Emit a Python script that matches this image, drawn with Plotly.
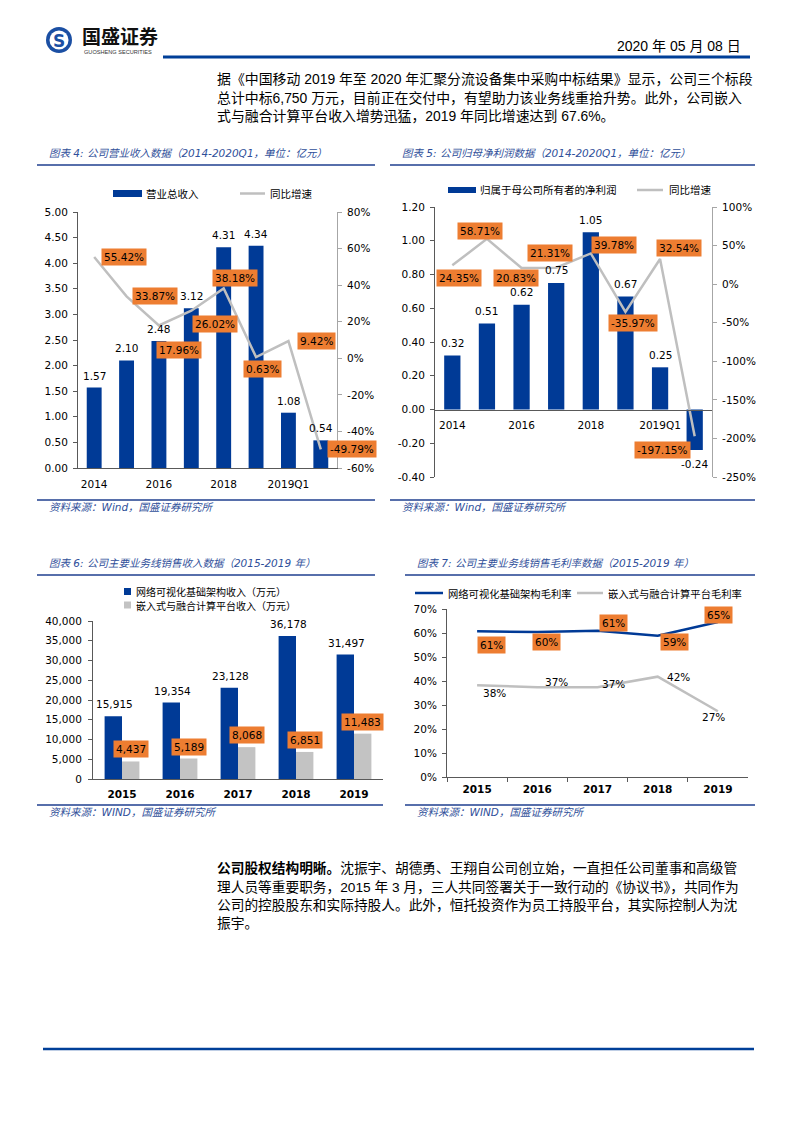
import plotly.graph_objects as go

W, H = 793, 1122


def px(x):
    return x / W


def py(y):
    return 1 - y / H


# ---------------- data ----------------
rev_periods = ["2014", "2015", "2016", "2017", "2018", "2019", "2019Q1", "2020Q1"]
rev_values = [1.57, 2.10, 2.48, 3.12, 4.31, 4.34, 1.08, 0.54]
rev_growth = [55.42, 33.87, 17.96, 26.02, 38.18, 0.63, 9.42, -49.79]
rev_xticks = ["2014", "2016", "2018", "2019Q1"]
rev_right_tickvals = [-60, -40, -20, 0, 20, 40, 60, 80]
rev_right_ticktext = ["-60%", "-40%", "-20%", "0%", "20%", "40%", "60%", "80%"]
rev_names = ["营业总收入", "同比增速"]

np_periods = ["2014", "2015", "2016", "2017", "2018", "2019", "2019Q1", "2020Q1"]
np_values = [0.32, 0.51, 0.62, 0.75, 1.05, 0.67, 0.25, -0.24]
np_growth = [24.35, 58.71, 20.83, 21.31, 39.78, -35.97, 32.54, -197.15]
np_xticks = ["2014", "2016", "2018", "2019Q1"]
np_left_tickvals = [-0.4, -0.2, 0, 0.2, 0.4, 0.6, 0.8, 1.0, 1.2]
np_left_ticktext = ["-0.40", "-0.20", "0.00", "0.20", "0.40", "0.60", "0.80", "1.00", "1.20"]
np_right_tickvals = [-250, -200, -150, -100, -50, 0, 50, 100]
np_right_ticktext = ["-250%", "-200%", "-150%", "-100%", "-50%", "0%", "50%", "100%"]
np_names = ["归属于母公司所有者的净利润", "同比增速"]

seg_years = ["2015", "2016", "2017", "2018", "2019"]
seg_network = [15915, 19354, 23128, 36178, 31497]
seg_embedded = [4437, 5189, 8068, 6851, 11483]
seg_names = ["网络可视化基础架构收入（万元）", "嵌入式与融合计算平台收入（万元）"]

gm_years = ["2015", "2016", "2017", "2018", "2019"]
gm_network = [60.7, 60.4, 60.9, 58.9, 64.6]
gm_embedded = [38.2, 37.4, 37.4, 41.8, 27.4]
gm_names = ["网络可视化基础架构毛利率", "嵌入式与融合计算平台毛利率"]

# label offsets (pixels: right, down)
rev_lbl_off = [(30, 0), (28, 0), (20, 25), (24, 13), (11, -10), (6, 12), (28, 0), (31, 0)]
np_lbl_off = [(7, 13), (-7, -8), (-6, 10), (-6, -15), (23, -8), (8, 11), (19, -11), (-32, 14)]
gmn_lbl_off = [(14, 14), (9, 10), (16, -8), (17, 6), (1, -7)]
gme_lbl_off = [(17, 8), (19, -5), (16, -3), (21, 0), (-4, 6)]

# ---------------- styles ----------------
BLUE = "#003A96"
GRAYL = "#BFBFBF"
GRAYBAR = "#C3C3C3"
ORANGE = "#ED7D31"
TITLEC = "#2F4F9A"
RULE = "#1F3F8F"
NUM = "DejaVu Sans, Noto Sans CJK SC"
CJK = "Noto Sans CJK SC"
BODY = "Liberation Sans, Noto Sans CJK SC"
AXC = "#595959"

fig = go.Figure()

# ---- chart 4 ----
fig.add_trace(go.Bar(x=rev_periods, y=rev_values, name=rev_names[0], marker_color=BLUE,
                     width=0.46, offset=-0.23, xaxis="x", yaxis="y"))
fig.add_trace(go.Scatter(x=rev_periods, y=rev_growth, name=rev_names[1], mode="lines",
                         line=dict(color=GRAYL, width=2.5), xaxis="x", yaxis="y2"))
# ---- chart 5 ----
fig.add_trace(go.Bar(x=np_periods, y=np_values, name=np_names[0], marker_color=BLUE,
                     width=0.47, offset=-0.235, xaxis="x2", yaxis="y3"))
fig.add_trace(go.Scatter(x=np_periods, y=np_growth, name=np_names[1], mode="lines",
                         line=dict(color=GRAYL, width=2.5), xaxis="x2", yaxis="y4"))
# ---- chart 6 ----
fig.add_trace(go.Bar(x=seg_years, y=seg_network, name=seg_names[0], marker_color=BLUE,
                     width=0.3, offset=-0.3, xaxis="x3", yaxis="y5"))
fig.add_trace(go.Bar(x=seg_years, y=seg_embedded, name=seg_names[1], marker_color=GRAYBAR,
                     width=0.3, offset=0.0, xaxis="x3", yaxis="y5"))
# ---- chart 7 ----
fig.add_trace(go.Scatter(x=gm_years, y=gm_network, name=gm_names[0], mode="lines",
                         line=dict(color=BLUE, width=2.5), xaxis="x4", yaxis="y6"))
fig.add_trace(go.Scatter(x=gm_years, y=gm_embedded, name=gm_names[1], mode="lines",
                         line=dict(color=GRAYL, width=2.5), xaxis="x4", yaxis="y6"))

tickfont = dict(family=NUM, size=10.5, color="#000000")
boldtick = dict(family=NUM, size=10.5, color="#000000", weight="bold")
common = dict(showgrid=False, zeroline=False)

fig.update_layout(
    width=W, height=H, margin=dict(l=0, r=0, t=0, b=0),
    paper_bgcolor="white", plot_bgcolor="rgba(0,0,0,0)",
    showlegend=False, hovermode=False, template="none",
    barmode="group",
    # chart 4
    xaxis=dict(domain=[px(78), px(337)], anchor="y", type="category", range=[-0.5, 7.5],
               tickvals=rev_xticks, showline=True, linecolor=AXC, ticks="",
               ticklabelstandoff=6, tickfont=tickfont, **common),
    yaxis=dict(domain=[py(468), py(212)], anchor="x", range=[0, 5], dtick=0.5,
               tickformat=".2f", showline=True, linecolor=AXC, ticks="outside",
               ticklen=4, tickcolor=AXC, ticklabelstandoff=3, tickfont=tickfont, **common),
    yaxis2=dict(overlaying="y", side="right", anchor="x", range=[-60, 80],
                tickvals=rev_right_tickvals, ticktext=rev_right_ticktext,
                showline=True, linecolor="#A6A6A6", ticks="outside", ticklen=4,
                tickcolor="#A6A6A6", ticklabelstandoff=3, tickfont=tickfont, **common),
    # chart 5
    xaxis2=dict(domain=[px(435), px(712)], anchor="free", position=py(409.5),
                type="category", range=[-0.5, 7.5], tickvals=np_xticks,
                showline=True, linecolor=AXC, ticks="", ticklabelstandoff=6,
                tickfont=tickfont, **common),
    yaxis3=dict(domain=[py(477), py(207)], anchor="x2", range=[-0.4, 1.2],
                tickvals=np_left_tickvals, ticktext=np_left_ticktext,
                showline=True, linecolor=AXC, ticks="outside", ticklen=4,
                tickcolor=AXC, ticklabelstandoff=3, tickfont=tickfont, **common),
    yaxis4=dict(overlaying="y3", side="right", anchor="x2", range=[-250, 100],
                tickvals=np_right_tickvals, ticktext=np_right_ticktext,
                showline=True, linecolor="#A6A6A6", ticks="outside", ticklen=4,
                tickcolor="#A6A6A6", ticklabelstandoff=3, tickfont=tickfont, **common),
    # chart 6
    xaxis3=dict(domain=[px(93), px(383)], anchor="y5", type="category", range=[-0.5, 4.5],
                showline=True, linecolor=AXC, ticks="", ticklabelstandoff=5,
                tickfont=boldtick, **common),
    yaxis5=dict(domain=[py(779), py(621)], anchor="x3", range=[0, 40000], dtick=5000,
                tickformat=",", showline=True, linecolor=AXC, ticks="outside", ticklen=4,
                tickcolor=AXC, ticklabelstandoff=4, tickfont=tickfont, **common),
    # chart 7
    xaxis4=dict(domain=[px(447), px(748)], anchor="y6", type="category", range=[-0.5, 4.5],
                showline=True, linecolor=AXC, ticks="outside", tickson="boundaries",
                ticklen=4, tickcolor=AXC, ticklabelstandoff=2, tickfont=boldtick, **common),
    yaxis6=dict(domain=[py(777), py(609)], anchor="x4", range=[0, 70], dtick=10,
                ticksuffix="%", showline=True, linecolor=AXC, ticks="outside", ticklen=4,
                tickcolor=AXC, ticklabelstandoff=3, tickfont=tickfont, **common),
)

ann = []
shapes = []


def text(x, y, s, size=10, color="#000000", family=NUM, xanchor="center",
         yanchor="middle", style="normal", weight="normal"):
    ann.append(dict(x=px(x), y=py(y), xref="paper", yref="paper", text=s,
                    showarrow=False, xanchor=xanchor, yanchor=yanchor,
                    font=dict(size=size, color=color, family=family, style=style,
                              weight=weight)))


def hline(x0, x1, y, color, width):
    shapes.append(dict(type="line", xref="paper", yref="paper", x0=px(x0), x1=px(x1),
                       y0=py(y), y1=py(y), line=dict(color=color, width=width)))


def rect(x0, x1, y0, y1, color):
    shapes.append(dict(type="rect", xref="paper", yref="paper", x0=px(x0), x1=px(x1),
                       y0=py(y1), y1=py(y0), fillcolor=color, line=dict(width=0)))


def circle(cx, cy, r, color):
    shapes.append(dict(type="circle", xref="paper", yref="paper", x0=px(cx - r),
                       x1=px(cx + r), y0=py(cy + r), y1=py(cy - r), fillcolor=color,
                       line=dict(width=0)))


# ---- header ----
circle(59, 40, 13, "#1B4FA3")
circle(59, 40, 9.5, "white")
text(59, 40.5, "<b>S</b>", size=17, color="#1B4FA3", family="DejaVu Sans")
text(80, 35, "<b>国盛证券</b>", size=19, color="#111111", family=CJK, xanchor="left")
text(82, 52, "GUOSHENG SECURITIES", size=5.6, color="#333333",
     family="Liberation Sans", xanchor="left")
hline(163, 750, 57, "#003F98", 3)
text(743, 46, "2020 年 05 月 08 日", size=14, family=BODY, xanchor="right")

# ---- paragraph 1 ----
para1 = [
    "据《中国移动 2019 年至 2020 年汇聚分流设备集中采购中标结果》显示，公司三个标段",
    "总计中标6,750 万元，目前正在交付中，有望助力该业务线重拾升势。此外，公司嵌入",
    "式与融合计算平台收入增势迅猛，2019 年同比增速达到 67.6%。",
]
for i, s in enumerate(para1):
    text(215, 79 + i * 18.7, s, size=13.9, family=BODY, xanchor="left")

para2 = [
    "<b>公司股权结构明晰。</b>沈振宇、胡德勇、王翔自公司创立始，一直担任公司董事和高级管",
    "理人员等重要职务，2015 年 3 月，三人共同签署关于一致行动的《协议书》，共同作为",
    "公司的控股股东和实际持股人。此外，恒托投资作为员工持股平台，其实际控制人为沈",
    "振宇。",
]
for i, s in enumerate(para2):
    text(215, 868 + i * 18.5, s, size=13.7, family=BODY, xanchor="left")

hline(43, 754, 1049, "#003F98", 2.5)

# ---- chart titles / sources ----
titles = [
    (47, 153, "图表 4: 公司营业收入数据（2014-2020Q1，单位：亿元）"),
    (400, 153, "图表 5: 公司归母净利润数据（2014-2020Q1，单位：亿元）"),
    (47, 563, "图表 6: 公司主要业务线销售收入数据（2015-2019 年）"),
    (415, 563, "图表 7: 公司主要业务线销售毛利率数据（2015-2019 年）"),
]
for x, y, s in titles:
    text(x, y, s, size=10.5, color=TITLEC, family=NUM, xanchor="left", style="italic")
hline(37, 375, 165, RULE, 1.5)
hline(390, 755, 165, RULE, 1.5)
hline(37, 375, 575, RULE, 1.5)
hline(405, 755, 575, RULE, 1.5)

hline(37, 375, 500, RULE, 1.5)
hline(390, 755, 500, RULE, 1.5)
hline(37, 383, 805, RULE, 1.5)
hline(405, 755, 805, RULE, 1.5)
sources = [
    (47, 507, "资料来源：Wind，国盛证券研究所"),
    (400, 507, "资料来源：Wind，国盛证券研究所"),
    (47, 812, "资料来源：WIND，国盛证券研究所"),
    (415, 812, "资料来源：WIND，国盛证券研究所"),
]
for x, y, s in sources:
    text(x, y, s, size=10.5, color=TITLEC, family=NUM, xanchor="left", style="italic")

# ---- legends ----
rect(113, 142, 190, 197, BLUE)
text(144, 193.5, rev_names[0], size=10.5, family=CJK, xanchor="left")
hline(240, 265, 193.5, GRAYL, 2.5)
text(268, 193.5, rev_names[1], size=10.5, family=CJK, xanchor="left")

rect(448, 476, 187, 193, BLUE)
text(478, 190, np_names[0], size=10.5, family=CJK, xanchor="left")
hline(637, 663, 190, GRAYL, 2.5)
text(667, 190, np_names[1], size=10.5, family=CJK, xanchor="left")

rect(124, 131, 588, 595, BLUE)
text(134, 591.5, seg_names[0], size=10, family=CJK, xanchor="left")
rect(124, 131, 601.5, 608.5, GRAYBAR)
text(134, 605, seg_names[1], size=10, family=CJK, xanchor="left")

hline(415, 443, 593, BLUE, 2.5)
text(446, 593, gm_names[0], size=10.3, family=CJK, xanchor="left")
hline(577, 603, 593, GRAYL, 2.5)
text(606, 593, gm_names[1], size=10.3, family=CJK, xanchor="left")


# ---- data labels (x given as category index) ----
def dlabel(i, y, s, xref, yref, dx=0, dy=0, box=False, size=10.5):
    d = dict(x=i, y=y, xref=xref, yref=yref, text=s, showarrow=False,
             xshift=dx, yshift=-dy, xanchor="center", yanchor="middle",
             font=dict(family=NUM, size=size, color="#000000"))
    if box:
        d.update(bgcolor=ORANGE, borderpad=2)
    ann.append(d)


for i, v in enumerate(rev_values):
    dlabel(i, v, f"{v:.2f}", "x", "y", dy=-12)
for i, (v, (dx, dy)) in enumerate(zip(rev_growth, rev_lbl_off)):
    dlabel(i, v, f"{v:.2f}%", "x", "y2", dx, dy, box=True)

for i, v in enumerate(np_values):
    dlabel(i, v, f"{v:.2f}", "x2", "y3", dy=(-12.5 if v >= 0 else 14))
for i, (v, (dx, dy)) in enumerate(zip(np_growth, np_lbl_off)):
    dlabel(i, v, f"{v:.2f}%", "x2", "y4", dx, dy, box=True)

for i, v in enumerate(seg_network):
    dlabel(i, v, f"{v:,}", "x3", "y5", dx=-8, dy=-12)
for i, v in enumerate(seg_embedded):
    dlabel(i, v, f"{v:,}", "x3", "y5", dx=8.7, dy=-12, box=True)

for i, (v, (dx, dy)) in enumerate(zip(gm_network, gmn_lbl_off)):
    dlabel(i, v, f"{v:.0f}%", "x4", "y6", dx, dy, box=True)
for i, (v, (dx, dy)) in enumerate(zip(gm_embedded, gme_lbl_off)):
    dlabel(i, v, f"{v:.0f}%", "x4", "y6", dx, dy)

fig.update_layout(annotations=ann, shapes=shapes)

fig.write_html(
    "out.html",
    config={"displayModeBar": False, "staticPlot": True},
    post_script="document.body.style.margin='0';document.body.style.overflow='hidden';",
)
